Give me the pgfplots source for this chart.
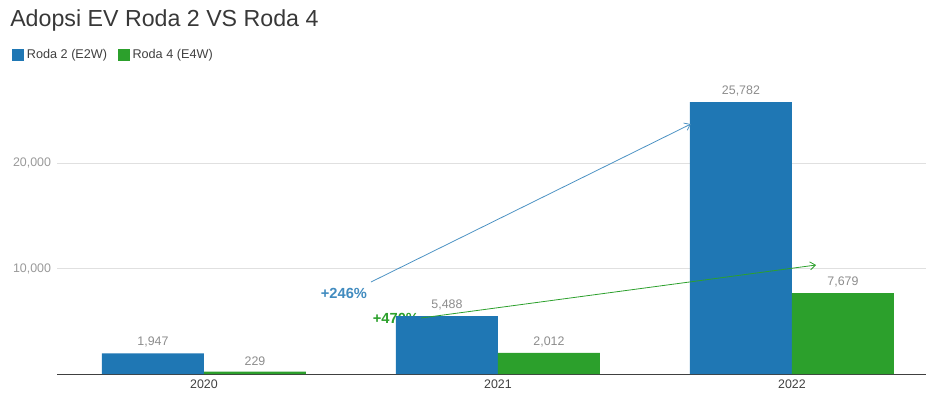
\documentclass[border=0pt]{standalone}
\usepackage{fontspec}
\setmainfont{Liberation Sans}
\usepackage{pgfplots}
\pgfplotsset{compat=1.18}
\usetikzlibrary{arrows.meta}
\definecolor{cblue}{HTML}{1F77B4}
\definecolor{cgreen}{HTML}{2CA02C}
\begin{document}
\begin{tikzpicture}
\useasboundingbox (0pt,0pt) rectangle (694.5pt,297.75pt);
\node[anchor=base west, font=\fontsize{17.4}{20}\selectfont, text=black!78, inner sep=0] at (7.5pt,277.5pt) {Adopsi EV Roda 2 VS Roda 4};
\begin{axis}[
 at={(42.75pt,17.25pt)}, anchor=south west, scale only axis,
 width=651.75pt, height=221.5pt,
 xmin=-0.5, xmax=2.456, ymin=0, ymax=28000,
 ybar=0pt, bar width=76.5pt,
 xtick={0,1,2}, xticklabels={2020,2021,2022},
 ytick={10000,20000},
 scaled ticks=false,
 /pgf/number format/.cd, fixed, precision=0, 1000 sep={,}, assume math mode=true,
 /pgfplots/.cd,
 axis x line*=bottom, axis y line*=left,
 y axis line style={draw=none},
 x axis line style={draw=black!75, line width=0.75pt},
 major tick length=0pt,
 ymajorgrids, grid style={draw=black!12, line width=0.75pt},
 yticklabel style={font=\fontsize{9.3}{11}\selectfont, text=black!40, xshift=-1pt},
 xticklabel style={font=\fontsize{9.3}{11}\selectfont, text=black!75, yshift=-1pt},
 nodes near coords,
 nodes near coords style={font=\fontsize{9.3}{11}\selectfont, text=black!45, yshift=1pt},
 legend style={at={(-0.0564,1.118)}, anchor=north west, draw=none, fill=none,
   legend columns=2, font=\fontsize{9.5}{11}\selectfont, text=black!75,
   /tikz/every even column/.append style={column sep=6pt}},
 legend image code/.code={\fill[#1] (0pt,-4.5pt) rectangle (9pt,4.5pt);},
]
\node[font=\bfseries\fontsize{11}{13}\selectfont, text=cgreen, inner sep=0] at (axis cs:0.653,5300) {+470\%};
\addplot[fill=cblue, draw=none] coordinates {(0,1947) (1,5488) (2,25782)};
\addplot[fill=cgreen, draw=none] coordinates {(0,229) (1,2012) (2,7679)};
\legend{Roda 2 (E2W), Roda 4 (E4W)}
\draw[-{Straight Barb[length=4pt,width=6pt]}, cblue!80, line width=0.6pt] (axis cs:0.568,8720) -- (axis cs:1.656,23697);
\draw[-{Straight Barb[length=4pt,width=6pt]}, cgreen, line width=0.6pt] (axis cs:0.738,5308) -- (axis cs:2.082,10332);
\node[font=\bfseries\fontsize{11}{13}\selectfont, text=cblue!85, inner sep=0] at (axis cs:0.476,7678) {+246\%};
\end{axis}
\end{tikzpicture}
\end{document}
